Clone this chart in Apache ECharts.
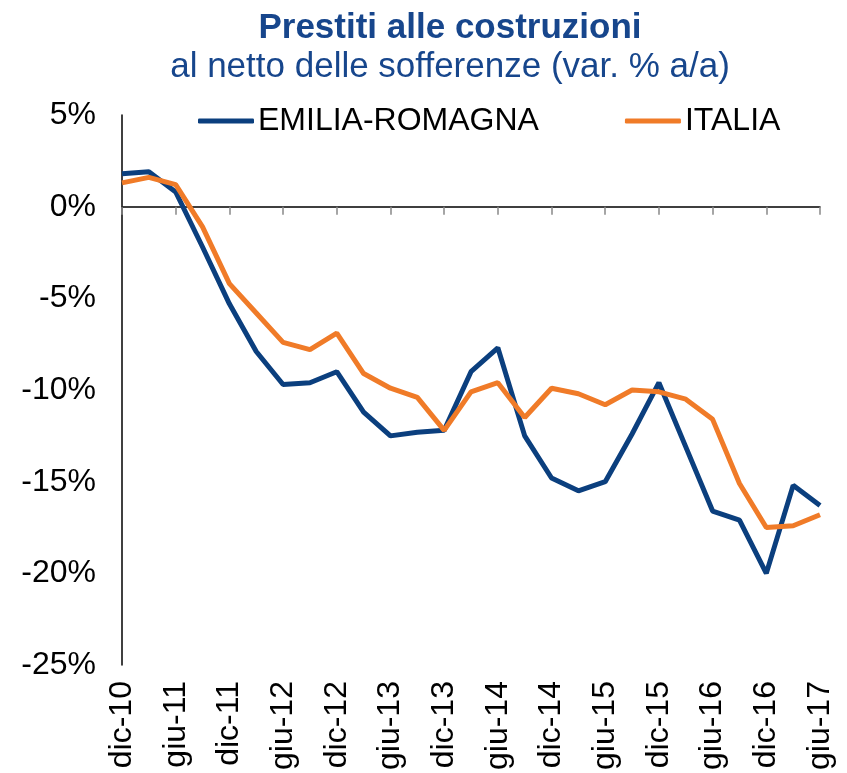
<!DOCTYPE html>
<html>
<head>
<meta charset="utf-8">
<script src="https://cdn.jsdelivr.net/npm/echarts@6/dist/echarts.min.js"></script>
<style>
  html, body { margin: 0; padding: 0; background: #fff; }
  #chart { width: 847px; height: 773px; }
</style>
</head>
<body>
<div id="chart"></div>
<script>
// trimestri dic-10 .. giu-17
var categories = ['dic-10', 'mar-11', 'giu-11', 'set-11', 'dic-11', 'mar-12', 'giu-12', 'set-12', 'dic-12',
  'mar-13', 'giu-13', 'set-13', 'dic-13', 'mar-14', 'giu-14', 'set-14', 'dic-14', 'mar-15', 'giu-15',
  'set-15', 'dic-15', 'mar-16', 'giu-16', 'set-16', 'dic-16', 'mar-17', 'giu-17'];

var emiliaRomagna = [1.8, 1.9, 0.8, -2.2, -5.3, -7.9, -9.7, -9.6, -9.0, -11.2, -12.5, -12.3, -12.2,
  -9.0, -7.7, -12.5, -14.8, -15.5, -15.0, -12.4, -9.6, -13.1, -16.6, -17.1, -20.0, -15.2, -16.3];

var italia = [1.3, 1.6, 1.2, -1.1, -4.2, -5.8, -7.4, -7.8, -6.9, -9.1, -9.9, -10.4, -12.2,
  -10.1, -9.6, -11.5, -9.9, -10.2, -10.8, -10.0, -10.1, -10.5, -11.6, -15.1, -17.5, -17.4, -16.8];

var yTicks = [-25, -20, -15, -10, -5, 0, 5];

var font = '"Liberation Sans", Arial, sans-serif';
var chart = echarts.init(document.getElementById('chart'));

chart.setOption({
  animation: false,
  title: {
    text: 'Prestiti alle costruzioni',
    subtext: 'al netto delle sofferenze (var. % a/a)',
    left: 445,
    textAlign: 'center',
    top: 3,
    itemGap: 0,
    textStyle: { fontFamily: font, fontSize: 35, fontWeight: 'bold', color: '#17468C', lineHeight: 40 },
    subtextStyle: { fontFamily: font, fontSize: 35, color: '#17468C', lineHeight: 38 }
  },
  legend: {
    data: ['EMILIA-ROMAGNA', 'ITALIA'],
    left: 193,
    top: 100,
    icon: 'roundRect',
    itemWidth: 56,
    itemHeight: 5,
    itemGap: 86,
    textStyle: { fontFamily: font, fontSize: 32, color: '#000', padding: [0, 0, 0, -1] }
  },
  grid: { left: 122, right: 27, top: 115, bottom: 107 },
  xAxis: [{
    type: 'category',
    data: categories,
    boundaryGap: false,
    position: 'bottom',
    axisLine: { show: false, onZero: false },
    axisTick: { show: false },
    axisLabel: { interval: 1, rotate: 90, margin: 16, fontFamily: font, fontSize: 32, color: '#000' }
  }, {
    type: 'category',
    data: categories,
    boundaryGap: false,
    position: 'bottom',
    axisLine: { show: true, onZero: true, onZeroAxisIndex: 0, lineStyle: { color: '#000', width: 1.5 } },
    axisTick: { show: true, interval: 1, length: 8, lineStyle: { color: '#888', width: 1.5 } },
    axisLabel: { show: false }
  }],
  yAxis: {
    type: 'value',
    min: yTicks[0],
    max: yTicks[yTicks.length - 1],
    interval: 5,
    axisLine: { show: true, lineStyle: { color: '#000', width: 1.5 } },
    axisTick: { show: false },
    splitLine: { show: false },
    axisLabel: { margin: 26, fontFamily: font, fontSize: 32, color: '#000', formatter: '{value}%' }
  },
  series: [{
    name: 'EMILIA-ROMAGNA',
    type: 'line',
    data: emiliaRomagna,
    symbol: 'none',
    lineStyle: { color: '#0B3F7E', width: 5 },
    itemStyle: { color: '#0B3F7E' }
  }, {
    name: 'ITALIA',
    type: 'line',
    data: italia,
    symbol: 'none',
    lineStyle: { color: '#F07B28', width: 5 },
    itemStyle: { color: '#F07B28' }
  }]
});
</script>
</body>
</html>
